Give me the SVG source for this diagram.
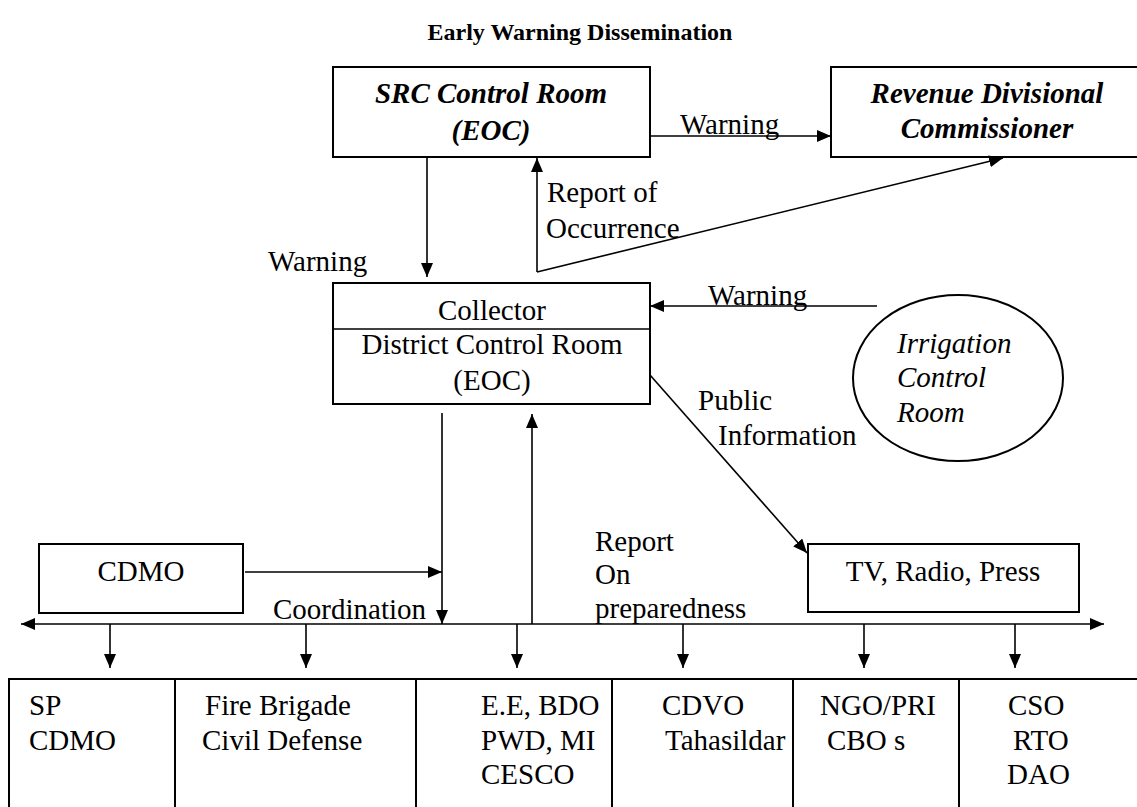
<svg xmlns="http://www.w3.org/2000/svg" width="1137" height="807" viewBox="0 0 1137 807">
<style>
text{font-family:"Liberation Serif","Times New Roman",serif;font-size:29px;fill:#000}
.t{font-weight:bold;font-size:24px}
.bi{font-weight:bold;font-style:italic}
.i{font-style:italic}
.c{text-anchor:middle}
.box{fill:#fff;stroke:#000;stroke-width:2}
.ln{fill:none;stroke:#000;stroke-width:1.6}
</style>
<defs>
<marker id="ah" markerUnits="userSpaceOnUse" markerWidth="14" markerHeight="12" refX="14" refY="6" orient="auto">
<path d="M0,0 L14,6 L0,12 Z" fill="#000"/>
</marker>
</defs>
<text class="t c" x="580" y="40">Early Warning Dissemination</text>
<g id="src"><rect class="box" x="333" y="67" width="317" height="90"/>
<text class="bi c" x="491" y="103">SRC Control Room</text><text class="bi c" x="491" y="140">(EOC)</text></g>
<g id="revenue"><rect class="box" x="831" y="67" width="310" height="90"/>
<text class="bi c" x="987" y="103">Revenue Divisional</text><text class="bi c" x="987" y="138">Commissioner</text></g>
<g id="collector"><rect class="box" x="333" y="283" width="317" height="121"/>
<line class="ln" x1="333" y1="329" x2="650" y2="329"/>
<text class="c" x="492" y="320">Collector</text><text class="c" x="492" y="354">District Control Room</text><text class="c" x="492" y="390">(EOC)</text></g>
<g id="irrigation"><ellipse class="box" cx="958" cy="378" rx="105" ry="83"/>
<text class="i" x="897" y="353">Irrigation</text><text class="i" x="897" y="387">Control</text><text class="i" x="897" y="422">Room</text></g>
<g id="cdmo"><rect class="box" x="39" y="544" width="204" height="69"/><text class="c" x="141" y="581">CDMO</text></g>
<g id="tv"><rect class="box" x="808" y="544" width="271" height="68"/><text class="c" x="943" y="581">TV, Radio, Press</text></g>
<g id="table">
<path class="ln" d="M1140,679 H9 V810 M175,679 V810 M416,679 V810 M612,679 V810 M793,679 V810 M959,679 V810" style="stroke-width:2"/>
<text x="29" y="715">SP</text><text x="29" y="750">CDMO</text>
<text x="205" y="715">Fire Brigade</text><text x="202" y="750">Civil Defense</text>
<text x="481" y="715">E.E, BDO</text><text x="481" y="750">PWD, MI</text><text x="481" y="784">CESCO</text>
<text x="662" y="715">CDVO</text><text x="665" y="750">Tahasildar</text>
<text x="820" y="715">NGO/PRI</text><text x="827" y="750">CBO s</text>
<text x="1008" y="715">CSO</text><text x="1013" y="750">RTO</text><text x="1007" y="784">DAO</text>
</g>
<g id="connectors">
<line class="ln" x1="650" y1="136" x2="831" y2="136" marker-end="url(#ah)"/>
<line class="ln" x1="427" y1="157" x2="427" y2="277" marker-end="url(#ah)"/>
<line class="ln" x1="537" y1="272" x2="537" y2="158" marker-end="url(#ah)"/>
<line class="ln" x1="537" y1="272" x2="1003" y2="158" marker-end="url(#ah)"/>
<line class="ln" x1="877" y1="306" x2="650" y2="306" marker-end="url(#ah)"/>
<line class="ln" x1="650" y1="375" x2="807" y2="553" marker-end="url(#ah)"/>
<line class="ln" x1="442" y1="413" x2="442" y2="624" marker-end="url(#ah)"/>
<line class="ln" x1="532" y1="624" x2="532" y2="414" marker-end="url(#ah)"/>
<line class="ln" x1="245" y1="572" x2="442" y2="572" marker-end="url(#ah)"/>
<line class="ln" x1="60" y1="624" x2="21" y2="624" marker-end="url(#ah)"/>
<line class="ln" x1="60" y1="624" x2="1104" y2="624" marker-end="url(#ah)"/>
<line class="ln" x1="110" y1="624" x2="110" y2="668" marker-end="url(#ah)"/>
<line class="ln" x1="306" y1="624" x2="306" y2="668" marker-end="url(#ah)"/>
<line class="ln" x1="517" y1="624" x2="517" y2="668" marker-end="url(#ah)"/>
<line class="ln" x1="683" y1="624" x2="683" y2="668" marker-end="url(#ah)"/>
<line class="ln" x1="864" y1="624" x2="864" y2="668" marker-end="url(#ah)"/>
<line class="ln" x1="1015" y1="624" x2="1015" y2="668" marker-end="url(#ah)"/>
<text x="680" y="134">Warning</text>
<text x="268" y="271">Warning</text>
<text x="547" y="202">Report of</text><text x="546" y="238">Occurrence</text>
<text x="708" y="305">Warning</text>
<text x="698" y="410">Public</text><text x="718" y="445">Information</text>
<text x="273" y="619">Coordination</text>
<text x="595" y="551">Report</text><text x="595" y="584">On</text><text x="595" y="618">preparedness</text>
</g>
</svg>
